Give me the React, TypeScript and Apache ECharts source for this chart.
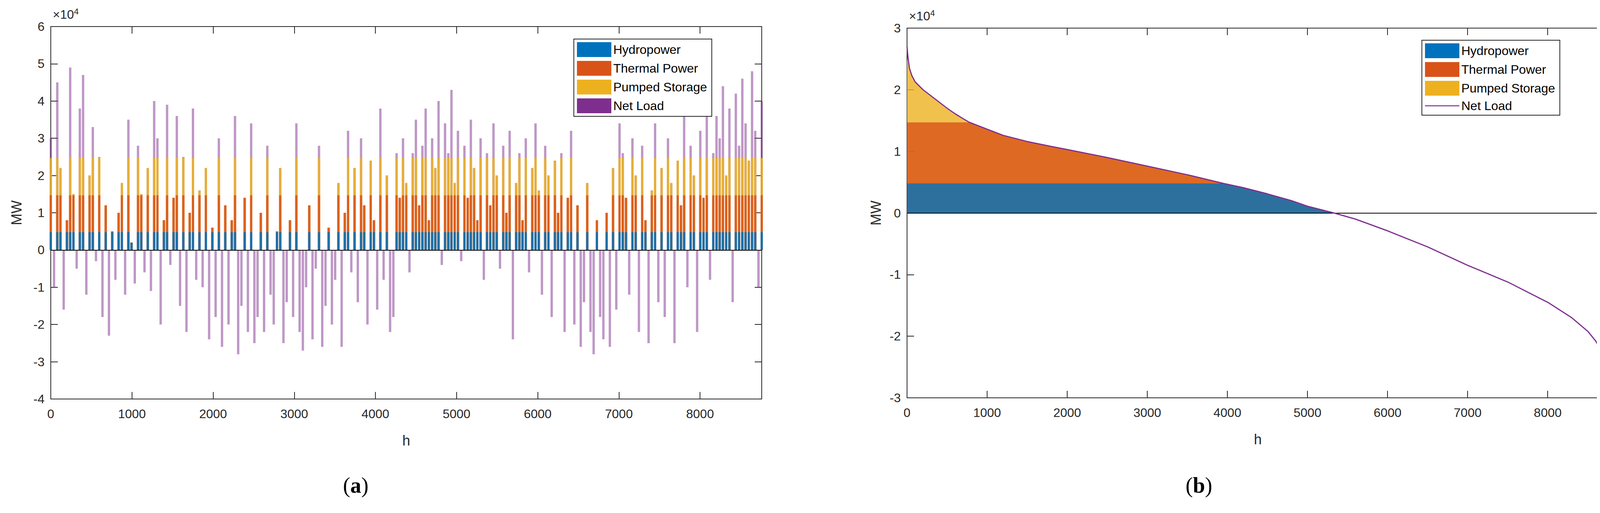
import * as echarts from 'echarts';
import { useEffect, useRef } from 'react';

// panel (a): hourly net load, sampled roughly every 40 h, in thousand MW
const netLoadA_kMW = [
  30, -10, 45, 22, -16, 8, 49, 15, -5, 38, 47, -12, 20, 33, -3, 25, -18, 12,
  -23, 5, -8, 10, 18, -12, 35, 2, -9, 28, 15, -6, 22, -11, 40,
  30, -20, 8, 39, -4, 14, 36, -15, 25, -22, 10, 38, -8, 16, -10, 22, -24, 6,
  -18, 30, -26, 12, -20, 8, 36, -28, -15, 14, -22, 34,
  -25, -18, 10, -22, 28, -12, -20, 5, 22, -25, -14, 8, -18, 34, -22, -27, -10, 12, -24, -5, 28, -26, -15, 6, -20, -8, 18, -26,
  10, 32, -6, 22, -14, 30, 12, -20, 24, 8, -16, 38, -8, 20, -22, -18, 26, 14,
  30, 18, -6, 26, 35, 12, 28, 38, 8, 30, 22, 40, -4, 34, 26, 43, 18, 32, -3, 28, 14, 35, 22, 8, 30, -8, 26, 12,
  34, 20, -5, 28, 10, 32, -24, 18, 26, 8, 30, -6, 22, 34, 16, -12, 28, 20, -18, 24, 10, 26, -22, 14, 32,
  -20, 12, -26, -14, 18, -22, -28, 8, -18, -24, 10, -26, 22, -16, 34,
  26, 14, -12, 30, 20, -22, 28, 8, -25, 16, 34, -14, 22, -18, 30,
  18, -25, 24, 12, 38, -10, 28, 20, -22, 32, 14, 40, -8, 26, 36,
  30, 44, 20, 38, -14, 42, 28, 46, 34, 24, 48, 32, -10, 40,
];

// panel (b): sorted net load (duration curve)
const durHours = [0, 10, 30, 60, 100, 200, 300, 400, 500, 600, 700, 780, 900, 1000, 1200, 1500, 1800, 2000, 2500, 3000, 3500, 3950, 4200, 4500, 4800, 5000, 5330, 5600, 6000, 6500, 7000, 7500, 8000, 8300, 8500, 8600, 8680, 8730, 8760];
const durLoad_kMW = [27, 25.5, 23.5, 22.3, 21.3, 20, 19, 18, 17, 16.1, 15.3, 14.7, 14.1, 13.6, 12.6, 11.6, 10.8, 10.3, 9, 7.6, 6.2, 4.8, 4.1, 3.1, 2, 1.1, 0, -1, -2.9, -5.5, -8.5, -11.2, -14.5, -17, -19.2, -20.8, -22.7, -25, -28.5];

const seriesNames = ['Hydropower', 'Thermal Power', 'Pumped Storage', 'Net Load'];
const colors = ['#0072bd', '#d95319', '#edb120', '#7e2f8e'];
const xTicks = [0, 1000, 2000, 3000, 4000, 5000, 6000, 7000, 8000];

const HYDRO_CAP = 4800;
const THERMAL_TOP = 14700;
const PUMPED_CAP = 10000;

const FONT = 'Liberation Sans, Arial, sans-serif';
const TXT = '#262626';
const O = 8; // body margin offset

// cumulative tops of hydro, hydro+thermal, hydro+thermal+pumped
function tops(v: number) {
  const p = Math.max(v, 0);
  const h = Math.min(p, HYDRO_CAP);
  const t = Math.min(p, THERMAL_TOP);
  const s = Math.min(p, THERMAL_TOP + PUMPED_CAP);
  return [h, t, s];
}

function axesFor(grid: number, min: number, max: number) {
  const common = {
    gridIndex: grid,
    axisLine: { onZero: false, lineStyle: { color: TXT, width: 2 } },
    axisTick: { inside: true, length: 18, lineStyle: { color: TXT, width: 2 } },
    splitLine: { show: false },
  };
  const xA = {
    ...common, type: 'value', min: 0, max: 8760, interval: 1000,
    axisLabel: { fontSize: 32, fontFamily: FONT, color: TXT, margin: 22, formatter: (v: number) => (xTicks.includes(v) ? String(v) : '') },
  };
  const yA = {
    ...common, type: 'value', min, max, interval: 10000,
    axisLabel: { fontSize: 32, fontFamily: FONT, color: TXT, margin: 16, formatter: (v: number) => String(v / 10000) },
  };
  return {
    x: [
      { ...xA, position: 'bottom', name: 'h', nameLocation: 'middle', nameGap: 88, nameTextStyle: { fontSize: 36, fontFamily: FONT, color: TXT } },
      { ...xA, position: 'top', axisLabel: { show: false } },
    ],
    y: [
      { ...yA, position: 'left', name: 'MW', nameLocation: 'middle', nameGap: grid === 0 ? 70 : 62, nameTextStyle: { fontSize: 36, fontFamily: FONT, color: TXT } },
      { ...yA, position: 'right', axisLabel: { show: false } },
    ],
  };
}

function legendFor(left: number, top: number, lineLast: boolean) {
  return {
    orient: 'vertical', left: left - O, top: top - O,
    itemWidth: 88, itemHeight: 38, itemGap: 10, padding: [8, 12, 8, 8],
    borderColor: TXT, borderWidth: 2, backgroundColor: '#fff',
    textStyle: { fontSize: 32, fontFamily: FONT, color: '#000' },
    data: seriesNames.map((n, i) => ({
      name: n,
      icon: lineLast && i === 3 ? 'path://M0,14L100,14L100,17L0,17Z' : 'rect',
      itemStyle: { color: colors[i], opacity: 1 },
    })),
  };
}

export default function App() {
  const ref = useRef<HTMLDivElement>(null);

  useEffect(() => {
    if (!ref.current) return;
    const chart = echarts.init(ref.current, undefined, { renderer: 'svg' });

    const n = netLoadA_kMW.length;
    const aX = netLoadA_kMW.map((_, i) => Math.round((i * 8760) / (n - 1)));
    const aLoad = netLoadA_kMW.map(v => v * 1000);
    const aTops = aLoad.map(tops);

    const bLoad = durLoad_kMW.map(v => v * 1000);
    const bTops = bLoad.map(tops);

    const a = axesFor(0, -40000, 60000);
    const b = axesFor(1, -30000, 30000);
    const xAxis = [...a.x, ...b.x];
    const yAxis = [...a.y, ...b.y];

    const zeroLine = {
      silent: true, symbol: 'none', label: { show: false },
      lineStyle: { color: '#000', width: 2, type: 'solid' },
      data: [{ yAxis: 0 }],
    };
    const sup = { s: { fontSize: 22, verticalAlign: 'top', padding: [0, 0, 16, 0] } };
    const serif = 'Liberation Serif, serif';

    chart.setOption({
      animation: false,
      backgroundColor: '#fff',
      grid: [
        { left: 130 - O, top: 68 - O, width: 1820, height: 954 },
        { left: 2322 - O, top: 72 - O, width: 1796, height: 947 },
      ],
      xAxis,
      yAxis,
      legend: [legendFor(1469, 100, false), legendFor(3640, 103, true)],
      graphic: [
        { type: 'text', left: 135 - O, top: 18 - O, style: { text: '×10{s|4}', rich: sup, fontSize: 32, fontFamily: FONT, fill: TXT } },
        { type: 'text', left: 2327 - O, top: 22 - O, style: { text: '×10{s|4}', rich: sup, fontSize: 32, fontFamily: FONT, fill: TXT } },
        { type: 'text', left: 878 - O, top: 1215 - O, style: { text: '({b|a})', rich: { b: { fontWeight: 'bold', fontSize: 56, fontFamily: serif } }, fontSize: 56, fontFamily: serif, fill: '#000' } },
        { type: 'text', left: 3035 - O, top: 1215 - O, style: { text: '({b|b})', rich: { b: { fontWeight: 'bold', fontSize: 56, fontFamily: serif } }, fontSize: 56, fontFamily: serif, fill: '#000' } },
      ],
      series: [
        // panel (a): net load behind, then generation layers drawn from the top layer down
        {
          name: 'Net Load', type: 'bar', xAxisIndex: 0, yAxisIndex: 0, barWidth: 6, barGap: '-100%',
          itemStyle: { color: colors[3], opacity: 0.5 },
          data: aX.map((x, i) => [x, aLoad[i]]),
          markLine: zeroLine,
        },
        ...[2, 1, 0].map(k => ({
          name: seriesNames[k], type: 'bar', xAxisIndex: 0, yAxisIndex: 0, barWidth: 6, barGap: '-100%',
          itemStyle: { color: colors[k], opacity: 0.85 },
          data: aX.map((x, i) => [x, aTops[i][k]]),
        })),
        // panel (b)
        ...[2, 1, 0].map(k => ({
          name: seriesNames[k], type: 'line', xAxisIndex: 2, yAxisIndex: 2, symbol: 'none',
          itemStyle: { color: colors[k] },
          lineStyle: { width: 0 },
          areaStyle: { color: colors[k], opacity: 0.8, origin: 0 },
          data: durHours.map((x, i) => [x, bTops[i][k]]),
        })),
        {
          name: 'Net Load', type: 'line', xAxisIndex: 2, yAxisIndex: 2, symbol: 'none',
          itemStyle: { color: colors[3] }, lineStyle: { color: colors[3], width: 3 },
          data: durHours.map((x, i) => [x, bLoad[i]]),
          markLine: zeroLine, z: 5,
        },
      ],
    });

    return () => chart.dispose();
  }, []);

  return <div ref={ref} style={{ width: 4120, height: 1298 }} />;
}
